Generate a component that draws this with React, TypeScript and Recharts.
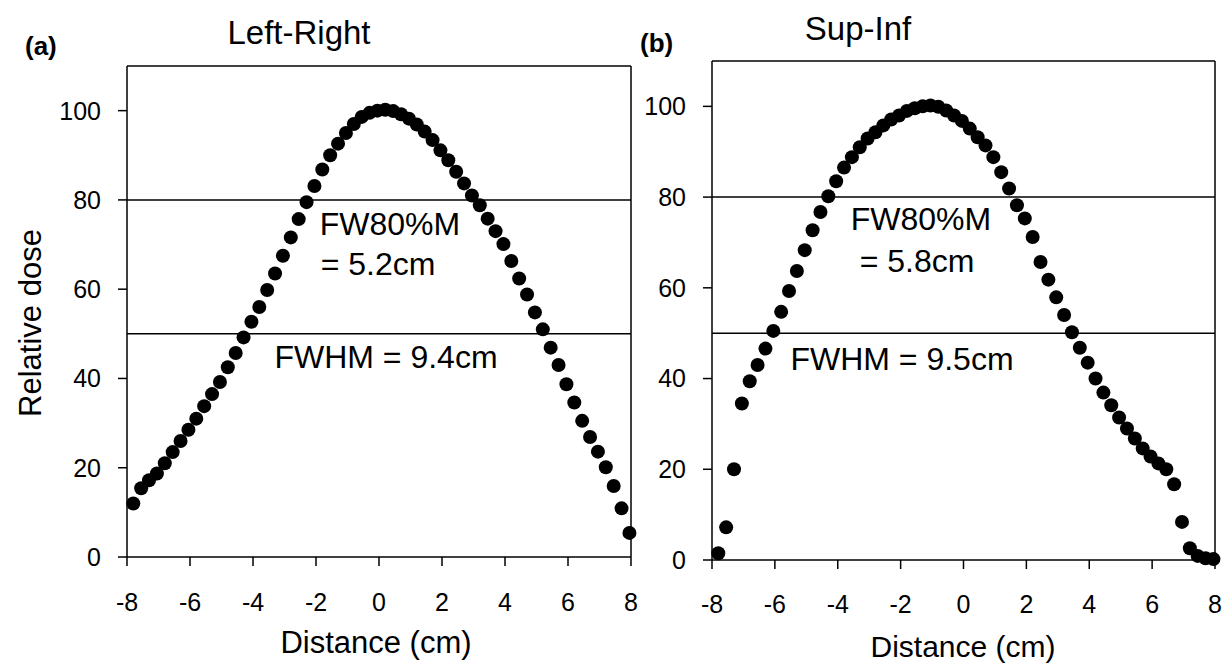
import React from 'react';
import { ScatterChart, Scatter, XAxis, YAxis, ReferenceLine } from 'recharts';

const DIST = [-7.8, -7.55, -7.3, -7.05, -6.8, -6.55, -6.3, -6.05, -5.8, -5.55, -5.3, -5.05, -4.8, -4.55, -4.3, -4.05, -3.8, -3.55, -3.3, -3.05, -2.8, -2.55, -2.3, -2.05, -1.8, -1.55, -1.3, -1.05, -0.8, -0.55, -0.3, -0.05, 0.2, 0.45, 0.7, 0.95, 1.2, 1.45, 1.7, 1.95, 2.2, 2.45, 2.7, 2.95, 3.2, 3.45, 3.7, 3.95, 4.2, 4.45, 4.7, 4.95, 5.2, 5.45, 5.7, 5.95, 6.2, 6.45, 6.7, 6.95, 7.2, 7.45, 7.7, 7.95];

const LEFT_RIGHT_DOSE = [12.0, 15.4, 17.2, 18.7, 21.0, 23.5, 26.0, 28.5, 31.0, 33.8, 36.5, 39.2, 42.5, 45.7, 49.2, 52.7, 56.0, 59.8, 63.5, 67.5, 71.6, 75.7, 79.5, 83.1, 86.8, 90.0, 92.6, 95.0, 97.0, 98.6, 99.5, 100.0, 100.2, 99.9, 99.2, 98.2, 96.9, 95.3, 93.4, 91.1, 88.9, 86.3, 83.7, 81.0, 78.8, 75.8, 73.0, 70.1, 66.3, 62.4, 58.8, 54.8, 51.0, 46.9, 43.0, 38.7, 34.6, 30.5, 26.9, 23.6, 20.1, 15.9, 10.9, 5.4];

const SUP_INF_DOSE = [1.5, 7.2, 20.0, 34.5, 39.4, 43.0, 46.6, 50.5, 54.7, 59.3, 63.7, 68.3, 72.7, 76.7, 80.2, 83.5, 86.5, 88.8, 91.0, 92.9, 94.3, 95.8, 97.1, 98.0, 99.0, 99.6, 100.0, 100.2, 99.9, 99.1, 98.0, 96.8, 95.1, 93.2, 91.4, 88.8, 85.5, 81.9, 78.2, 75.3, 71.2, 65.7, 61.8, 57.9, 54.0, 50.2, 46.8, 43.5, 40.0, 36.9, 34.1, 31.4, 29.0, 26.8, 24.6, 22.8, 21.3, 20.0, 16.7, 8.4, 2.6, 0.9, 0.4, 0.2];

const X_TICKS = [-8, -6, -4, -2, 0, 2, 4, 6, 8];
const Y_TICKS = [0, 20, 40, 60, 80, 100];
const X_DOMAIN = [-8, 8];
const Y_DOMAIN = [0, 110];
const THRESHOLDS = [80, 50];

const FONT = '"Liberation Sans", Arial, Helvetica, sans-serif';

const leftData = DIST.map((x, i) => ({ x, y: LEFT_RIGHT_DOSE[i] }));
const rightData = DIST.map((x, i) => ({ x, y: SUP_INF_DOSE[i] }));

const DotShape = (props: any) => <circle cx={props.cx} cy={props.cy} r={7} fill="#000" />;

const line = { stroke: '#000', strokeWidth: 1.5 };

function Panel({ data, margin, width, xTickMargin }: any) {
  return (
    <ScatterChart width={width} height={667} margin={margin}>
      <XAxis
        type="number"
        dataKey="x"
        domain={X_DOMAIN}
        ticks={X_TICKS}
        height={60}
        axisLine={line}
        tickLine={line}
        tickSize={9}
        tickMargin={xTickMargin}
        tick={{ fill: '#000', fontSize: 25, fontFamily: FONT }}
        interval={0}
      />
      <YAxis
        type="number"
        dataKey="y"
        domain={Y_DOMAIN}
        ticks={Y_TICKS}
        width={60}
        axisLine={line}
        tickLine={line}
        tickSize={9}
        tickMargin={17}
        tick={{ fill: '#000', fontSize: 25, fontFamily: FONT }}
        interval={0}
      />
      <ReferenceLine y={110} stroke="#000" strokeWidth={1.5} />
      <ReferenceLine x={8} stroke="#000" strokeWidth={1.5} />
      {THRESHOLDS.map((t) => (
        <ReferenceLine key={t} y={t} stroke="#000" strokeWidth={1.5} />
      ))}
      <Scatter data={data} shape={DotShape} isAnimationActive={false} />
    </ScatterChart>
  );
}

export default function App() {
  return (
    <div style={{ position: 'absolute', left: 0, top: 0, width: 1225, height: 667, background: '#fff', overflow: 'hidden' }}>
      <div style={{ position: 'absolute', left: 0, top: 0 }}>
        <Panel data={leftData} width={660} margin={{ top: 66, right: 29, bottom: 50, left: 67 }} xTickMargin={27} />
      </div>
      <div style={{ position: 'absolute', left: 640, top: 0 }}>
        <Panel data={rightData} width={585} margin={{ top: 61, right: 10, bottom: 47, left: 12 }} xTickMargin={26} />
      </div>
      <svg width={1225} height={667} style={{ position: 'absolute', left: 0, top: 0, pointerEvents: 'none' }} fontFamily={FONT} fill="#000">
        <text x={25} y={55} fontSize={26} fontWeight="bold">(a)</text>
        <text x={299} y={44} fontSize={33} textAnchor="middle">Left-Right</text>
        <text x={640} y={52} fontSize={26} fontWeight="bold">(b)</text>
        <text x={858} y={40} fontSize={33} textAnchor="middle">Sup-Inf</text>
        <text x={41} y={323} fontSize={31} textAnchor="middle" transform="rotate(-90, 41, 323)">Relative dose</text>
        <text x={376} y={653} fontSize={31} textAnchor="middle">Distance (cm)</text>
        <text x={963} y={657} fontSize={30} textAnchor="middle">Distance (cm)</text>
        <text x={390} y={235} fontSize={32} textAnchor="middle">FW80%M</text>
        <text x={378} y={275} fontSize={32} textAnchor="middle">= 5.2cm</text>
        <text x={386} y={368} fontSize={32} textAnchor="middle">FWHM = 9.4cm</text>
        <text x={921} y={230} fontSize={32} textAnchor="middle">FW80%M</text>
        <text x={917} y={272} fontSize={32} textAnchor="middle">= 5.8cm</text>
        <text x={902} y={370} fontSize={32} textAnchor="middle">FWHM = 9.5cm</text>
      </svg>
    </div>
  );
}
